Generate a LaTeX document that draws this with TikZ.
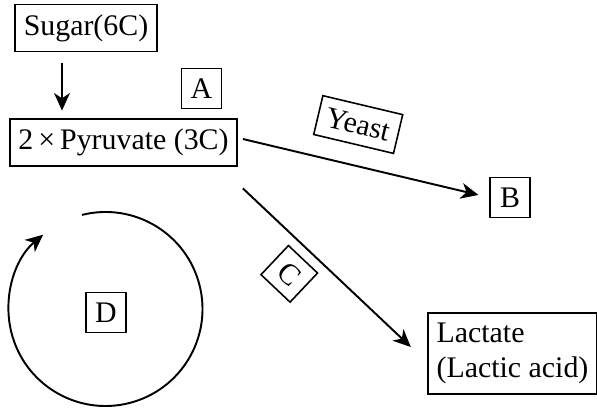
\documentclass[tikz,border=0pt]{standalone}
\usepackage{fontspec}
\setmainfont{Liberation Serif}
\usepackage{tikz}
\usetikzlibrary{arrows.meta}
\tikzstyle{arrow} = [line width=1.1pt,->,>={Stealth[length=10pt,width=9pt,inset=3pt]}]
\tikzstyle{box} = [draw,line width=0.9pt,inner xsep=0.17cm,inner ysep=0.2cm]
\tikzstyle{tag} = [box,minimum size=0.8cm,inner sep=0pt]
\begin{document}
\begin{tikzpicture}[font=\fontsize{17}{20}\selectfont]
\useasboundingbox (0,0) rectangle (11.94,8.22);

\node[box] (sugar) at (1.72,7.66) {Sugar(6C)};
\node[box] (pyr) at (2.47,5.37) {2\,×\,Pyruvate (3C)};
\node[tag] (A) at (4.03,6.45) {A};
\node[tag] (B) at (10.20,4.27) {B};
\node[box,align=left] (lact) at (10.25,1.15) {Lactate\\(Lactic acid)};
\node[tag] (D) at (2.12,1.97) {D};
\coordinate (cyc) at (2.11,2.04);

\draw[arrow,shorten <=0.22cm,shorten >=0.15cm] ([xshift=-0.48cm]sugar.south) -- ([xshift=-0.48cm]sugar.south |- pyr.north);
\draw[arrow,shorten >=0.22cm] ([shift={(0.1,0.07)}]pyr.east) -- (B.west)
  node[box,sloped,above=0.4cm,pos=0.43] (yeast) {Yeast};
\draw[arrow] ([shift={(0.1,-0.43)}]pyr.south east) -- ([shift={(-0.33,0.13)}]lact.west)
  node[tag,sloped,below=0.19cm,pos=0.4] (C) {C};
\draw[arrow] (cyc) ++(104:1.94) arc[start angle=104,end angle=-230,radius=1.94];

\end{tikzpicture}
\end{document}
